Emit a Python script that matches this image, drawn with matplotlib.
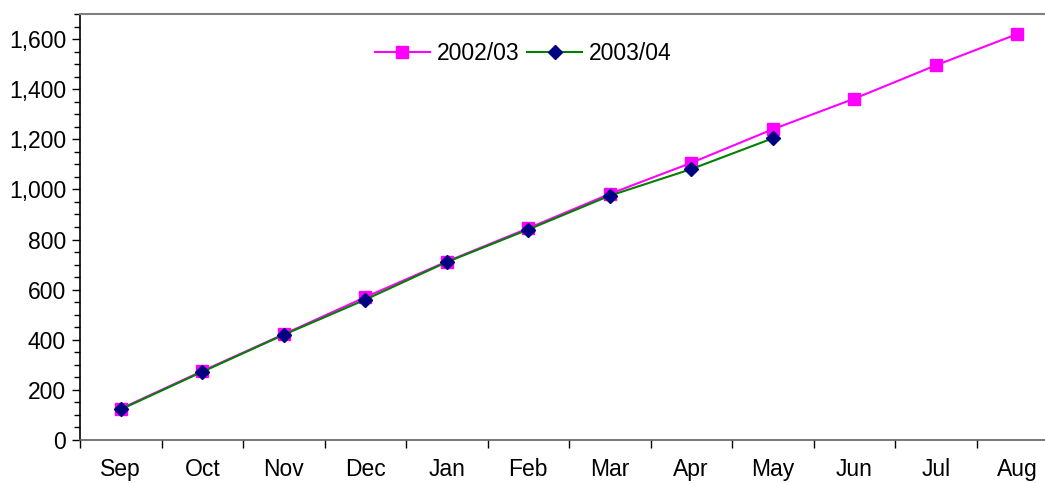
import matplotlib.pyplot as plt
import numpy as np
from matplotlib.ticker import MultipleLocator, FuncFormatter, FixedLocator

plt.rcParams['font.family'] = ['Liberation Sans', 'DejaVu Sans']

months = ['Sep', 'Oct', 'Nov', 'Dec', 'Jan', 'Feb', 'Mar', 'Apr', 'May', 'Jun', 'Jul', 'Aug']
s0203 = [125, 275, 422, 570, 712, 845, 982, 1106, 1240, 1362, 1495, 1620]
s0304 = [122, 272, 420, 560, 710, 840, 975, 1081, 1204]

fig = plt.figure(figsize=(10.45, 4.83), dpi=100)
# plot area runs past the right edge of the image, like the original
ax = fig.add_axes([80/1045, 43/483, 978/1045, 426/483])

x = np.arange(len(months))
ax.plot(x, s0203, color='#FF00FF', lw=1.5, marker='s', ms=8,
        mfc='#FF00FF', mec='#FF00FF', label='2002/03')
ax.plot(x[:len(s0304)], s0304, color='#008000', lw=1.5, marker='D', ms=7.5,
        mfc='#000080', mec='#000080', label='2003/04')

ax.set_xlim(-0.5, len(months) - 0.5)
ax.set_ylim(0, 1700)
ax.yaxis.set_major_locator(MultipleLocator(200))
ax.yaxis.set_minor_locator(MultipleLocator(50))
ax.yaxis.set_major_formatter(FuncFormatter(lambda v, p: '{:,.0f}'.format(v)))

ax.set_xticks(x)
ax.set_xticklabels(months)
ax.xaxis.set_minor_locator(FixedLocator(np.arange(-0.5, len(months), 1)))
ax.tick_params(axis='x', which='major', length=0, pad=13, labelsize=16.5)
ax.tick_params(axis='x', which='minor', length=6, width=1, direction='out')
ax.tick_params(axis='y', which='major', length=6, width=1, labelsize=16.5, pad=4)
ax.tick_params(axis='y', which='minor', length=4, width=1)

ax.spines['top'].set_color('#808080')
ax.spines['top'].set_linewidth(1.5)
ax.spines['right'].set_color('#808080')
ax.spines['left'].set_linewidth(1.2)
ax.spines['bottom'].set_linewidth(1.2)
ax.spines['bottom'].set_color('#606060')

leg = ax.legend(loc='upper center', bbox_to_anchor=(0.453, 0.982), ncol=2,
                frameon=False, fontsize=16.5, handlelength=2.4, columnspacing=0.35,
                handletextpad=0.3)

fig.savefig('out.png', dpi=100)
